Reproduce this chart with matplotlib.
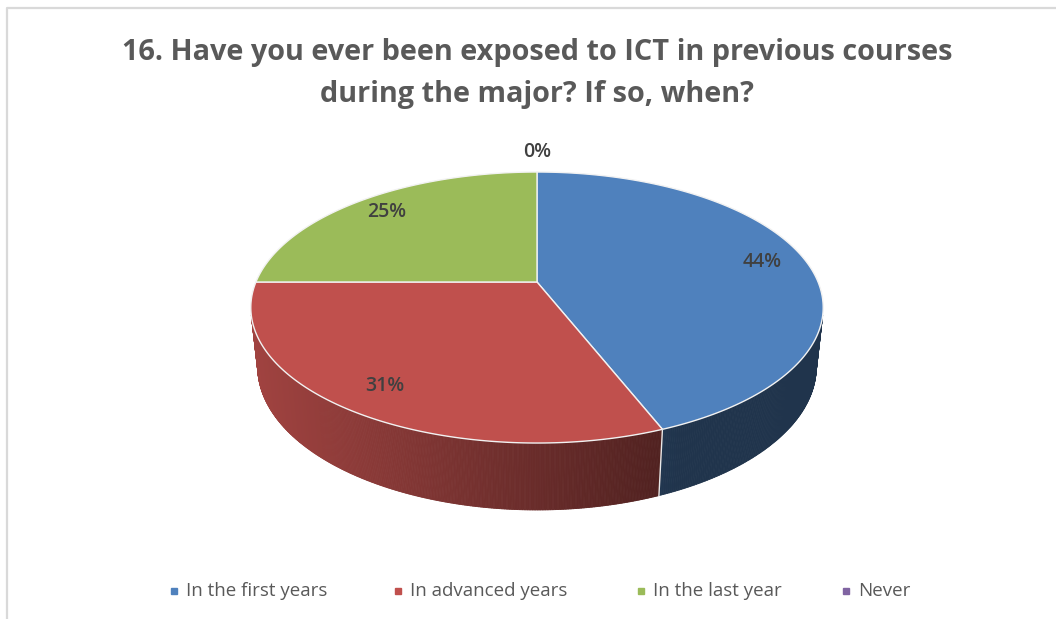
import numpy as np
import matplotlib
matplotlib.use("Agg")
import matplotlib.pyplot as plt
from matplotlib.collections import PolyCollection
from matplotlib.patches import Polygon
from matplotlib.colors import to_rgb

# ---- data -------------------------------------------------------------
categories = ["In the first years", "In advanced years", "In the last year", "Never"]
shares = [44, 31, 25, 0]          # percent of respondents
label_texts = ["44%", "31%", "25%", "0%"]
title_lines = ["16. Have you ever been exposed to ICT in previous courses",
               "during the major? If so, when?"]

# ---- style ------------------------------------------------------------
slice_colors = ["#4f81bd", "#c0504d", "#9bbb59", "#8064a2"]
text_grey = "#595959"
label_grey = "#404040"
font_family = ["Open Sans", "DejaVu Sans"]

W, H = 1056, 619
fig = plt.figure(figsize=(W / 100, H / 100), dpi=100)
ax = fig.add_axes([0, 0, 1, 1])
ax.set_xlim(0, W)
ax.set_ylim(H, 0)
ax.axis("off")

# chart frame
ax.plot([7, 7, W + 5], [H + 5, 8, 8], color="#d9d9d9", lw=1.6, solid_capstyle="butt")

# ---- 3D pie projection (perspective camera above the disc) -------------
sin_e = 0.465
cos_e = np.sqrt(1 - sin_e ** 2)
dist = 4.70          # camera distance in disc radii
focal = 1321.0       # pixels per unit at unit depth
cx, cy = 537.0, 282.0
thick = 0.24


def project(X, Y, Z):
    depth = Y * cos_e - Z * sin_e + dist
    up = Y * sin_e + Z * cos_e
    return cx + focal * X / depth, cy - focal * up / depth


def shade(color, x):
    f = np.clip(0.84 - 0.42 * (x - 250.0) / 410.0, 0.40, 1.0)
    r, g, b = to_rgb(color)
    return (r * f, g * f, b * f)


total = float(sum(shares))
bounds = [90.0]
for v in shares:
    bounds.append(bounds[-1] - 360.0 * v / total)

visible_limit = -1.0 / (dist * cos_e)   # side wall faces camera when sin(theta) < this

# side walls
for i, v in enumerate(shares):
    if v <= 0:
        continue
    a0, a1 = np.radians(bounds[i]), np.radians(bounds[i + 1])
    th = np.linspace(a0, a1, 400)
    quads, cols = [], []
    for t0, t1 in zip(th[:-1], th[1:]):
        tm = 0.5 * (t0 + t1)
        if np.sin(tm) >= visible_limit:
            continue
        p = [project(np.cos(t0), np.sin(t0), 0), project(np.cos(t1), np.sin(t1), 0),
             project(np.cos(t1), np.sin(t1), -thick), project(np.cos(t0), np.sin(t0), -thick)]
        quads.append(p)
        xm = np.mean([q[0] for q in p])
        cols.append(shade(slice_colors[i], xm))
    if quads:
        ax.add_collection(PolyCollection(quads, facecolors=cols, edgecolors=cols, linewidths=0.6))

# wall seams at slice boundaries
for b in bounds:
    t = np.radians(b)
    if np.sin(t) < visible_limit:
        x0, y0 = project(np.cos(t), np.sin(t), 0)
        x1, y1 = project(np.cos(t), np.sin(t), -thick)
        ax.plot([x0, x1], [y0, y1], color="#e8e8e8", lw=1.0)

# top faces
for i, v in enumerate(shares):
    if v <= 0:
        continue
    th = np.radians(np.linspace(bounds[i], bounds[i + 1], 300))
    pts = [project(0, 0, 0)] + [project(np.cos(t), np.sin(t), 0) for t in th]
    ax.add_patch(Polygon(pts, closed=True, facecolor=slice_colors[i],
                         edgecolor="#f2f2f2", lw=1.0, joinstyle="round"))

# data labels
for i, v in enumerate(shares):
    mid = np.radians(0.5 * (bounds[i] + bounds[i + 1]))
    r = 0.84 if v > 0 else 1.22
    lx, ly = project(r * np.cos(mid), r * np.sin(mid), 0)
    ax.text(lx, ly, label_texts[i], ha="center", va="center",
            fontsize=14, fontweight="semibold", color=label_grey, family=font_family)

# title
for line, base in zip(title_lines, [60, 102]):
    ax.text(537, base, line, ha="center", va="baseline", fontsize=20.8,
            fontweight="bold", color=text_grey, family=font_family)

# legend
legend_x = [174, 398, 641, 846]
for x, name, col in zip(legend_x, categories, slice_colors):
    ax.plot([x], [591], marker="s", ms=4.5, color=col, mec=col)
    ax.text(x + 12, 591, name, ha="left", va="center", fontsize=13.5,
            color=text_grey, family=font_family)

fig.savefig("out.png", dpi=100, facecolor="white")
